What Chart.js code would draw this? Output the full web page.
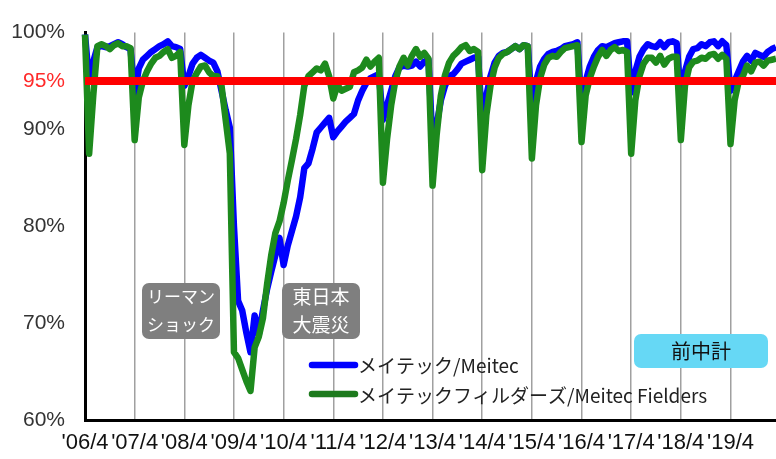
<!DOCTYPE html>
<html>
<head>
<meta charset="utf-8">
<script src="https://cdn.jsdelivr.net/npm/chart.js@4.4.1/dist/chart.umd.min.js"></script>
<style>
  html, body { margin: 0; padding: 0; background: #fff; }
  #wrap { width: 776px; height: 459px; }
</style>
</head>
<body>
<div id="wrap"><canvas id="chart1" width="776" height="459"></canvas></div>
<script>
// tick labels, one per April ('06/4 .. '19/4)
const yearLabels = ["'06/4", "'07/4", "'08/4", "'09/4", "'10/4", "'11/4", "'12/4",
    "'13/4", "'14/4", "'15/4", "'16/4", "'17/4", "'18/4", "'19/4"];
const yTicks = [60, 70, 80, 90, 95, 100];
const target = 95;

// monthly rate, Apr 2006 .. Mar 2020 (one row per fiscal year)
const meitec = [
    99.8, 95.0, 97.0, 98.5, 98.6, 98.5, 98.6, 98.8, 99.0, 98.8, 98.5, 98.3,
    93.6, 96.3, 97.2, 97.6, 98.0, 98.3, 98.6, 98.8, 99.1, 98.6, 98.5, 98.3,
    94.5, 95.5, 96.8, 97.4, 97.7, 97.4, 97.1, 96.9, 96.0, 94.0, 92.0, 90.2,
    80.0, 72.3, 71.3, 69.0, 67.0, 70.8, 68.8, 71.3, 73.5, 75.3, 77.0, 78.8,
    76.0, 78.0, 79.5, 81.0, 83.0, 86.0, 86.5, 88.0, 89.7, 90.2, 90.7, 91.2,
    89.2, 89.8, 90.3, 90.8, 91.2, 91.6, 93.0, 94.0, 94.8, 95.3, 95.5, 95.7,
    91.0, 92.5, 94.0, 95.5, 96.4, 96.6, 96.5, 96.6, 97.0, 96.5, 97.0, 97.2,
    88.5, 90.5, 93.0, 94.5, 95.5, 95.7, 96.2, 96.8, 97.0, 97.2, 97.4, 97.5,
    90.5, 93.5, 95.5, 96.9, 97.6, 97.9, 98.0, 98.3, 98.6, 98.3, 98.7, 98.6,
    92.3, 95.0, 96.5, 97.3, 97.8, 98.0, 98.1, 98.3, 98.6, 98.7, 98.8, 99.0,
    92.3, 95.0, 96.5, 97.5, 98.2, 98.6, 98.5, 98.7, 98.9, 99.0, 99.1, 99.1,
    93.8, 96.0, 97.5, 98.3, 98.8, 98.6, 98.5, 99.0, 98.5, 99.0, 99.1, 98.9,
    93.2, 96.0, 97.5, 98.3, 98.4, 98.8, 98.6, 99.0, 99.1, 98.6, 99.1, 98.7,
    94.0, 95.0, 96.0, 97.0, 97.6, 97.1, 97.9, 97.7, 97.5, 98.0, 98.3, 98.5
];
const fielders = [
    99.8, 87.5, 93.5, 98.6, 98.8, 98.6, 98.3, 98.7, 98.9, 98.6, 98.6, 98.4,
    88.9, 93.3, 95.0, 96.0, 96.8, 97.4, 97.6, 98.0, 98.3, 97.4, 97.6, 98.0,
    88.4, 92.5, 95.0, 95.8, 96.5, 96.6, 95.9, 95.5, 95.5, 94.5, 91.0, 87.5,
    67.0, 66.4, 65.2, 64.0, 63.0, 67.5, 68.6, 70.5, 74.0, 77.0, 79.3, 80.5,
    82.4, 84.7, 86.8, 89.0, 91.5, 94.5, 95.5, 95.9, 96.3, 96.1, 96.8, 95.5,
    93.2, 94.6, 94.0, 94.2, 94.4, 95.9, 96.1, 96.4, 97.2, 96.5, 97.0, 97.4,
    84.5, 89.0, 92.5, 95.0, 96.5, 97.4, 96.6, 97.6, 98.3, 97.5, 97.9, 97.3,
    84.2, 89.5, 93.5, 95.6, 96.9, 97.6, 98.0, 98.5, 98.7, 98.1, 98.3, 98.0,
    85.8, 91.5, 94.5, 96.4, 97.4, 97.8, 98.0, 98.3, 98.6, 98.3, 98.7, 98.6,
    87.0, 92.5, 95.3, 96.7, 97.4, 97.6, 97.5, 98.0, 98.4, 98.5, 98.6, 98.7,
    88.7, 93.5, 95.3, 96.5, 97.5, 98.2, 97.6, 98.2, 98.5, 98.1, 98.2, 98.0,
    87.5, 93.0, 95.5, 96.8, 97.4, 97.4, 96.9, 97.6, 96.7, 97.3, 97.5, 97.5,
    88.9, 94.5, 96.4, 97.0, 97.1, 97.4, 97.3, 97.7, 97.8, 97.3, 97.7, 97.3,
    88.5, 93.0, 95.0, 95.5, 96.6, 96.0, 96.9, 97.0, 96.6, 97.1, 97.2, 97.3
];

const lastMonth = meitec.length - 1;
const toPoints = arr => arr.map((v, i) => ({ x: i, y: v }));

const JP = '"Noto Sans CJK JP", "Liberation Sans", sans-serif';

// notes and legend drawn on top of the plot
const overlay = {
    id: 'overlay',
    afterDatasetsDraw(chart) {
        const c = chart.ctx;
        c.save();

        function box(x, y, w, h, fill, lines, color, size) {
            c.fillStyle = fill;
            c.beginPath();
            c.roundRect(x, y, w, h, 7);
            c.fill();
            c.fillStyle = color;
            c.font = size + 'px ' + JP;
            c.textAlign = 'center';
            c.textBaseline = 'middle';
            const step = h / lines.length;
            lines.forEach((t, i) => c.fillText(t, x + w / 2, y + step * (i + 0.5)));
        }
        box(142, 283, 78, 56, '#7f7f7f', ['リーマン', 'ショック'], '#fff', 17);
        box(282, 283, 78, 56, '#7f7f7f', ['東日本', '大震災'], '#fff', 19);
        box(634, 334, 134, 34, '#66d8f5', ['前中計'], '#111', 20);

        // legend
        c.lineCap = 'round';
        c.lineWidth = 6.5;
        c.strokeStyle = '#0000ff';
        c.beginPath(); c.moveTo(312, 365); c.lineTo(355, 365); c.stroke();
        c.strokeStyle = '#1d7a1d';
        c.beginPath(); c.moveTo(312, 394); c.lineTo(355, 394); c.stroke();
        c.fillStyle = '#222';
        c.font = '19px ' + JP;
        c.textAlign = 'left';
        c.textBaseline = 'middle';
        c.fillText('メイテック/Meitec', 358, 366);
        c.fillText('メイテックフィルダーズ/Meitec Fielders', 358, 396);
        c.restore();
    }
};

const ctx1 = document.getElementById('chart1').getContext('2d');
const myChart1 = new Chart(ctx1, {
    type: 'line',
    data: {
        datasets: [{
            label: '95%',
            data: [{ x: 0, y: target }, { x: lastMonth, y: target }],
            borderColor: '#ff0000',
            borderWidth: 8,
            pointRadius: 0,
            order: 0
        }, {
            label: 'メイテックフィルダーズ/Meitec Fielders',
            data: toPoints(fielders),
            borderColor: '#1d8a1d',
            borderWidth: 6.5,
            borderJoinStyle: 'round',
            pointRadius: 0,
            tension: 0,
            clip: 6,
            order: 1
        }, {
            label: 'メイテック/Meitec',
            data: toPoints(meitec),
            borderColor: '#0000ff',
            borderWidth: 6.5,
            borderJoinStyle: 'round',
            pointRadius: 0,
            tension: 0,
            clip: 6,
            order: 2
        }]
    },
    options: {
        responsive: false,
        animation: false,
        layout: { padding: { top: 23, right: 0, left: 0, bottom: 0 } },
        plugins: {
            legend: { display: false },
            tooltip: { enabled: false }
        },
        scales: {
            x: {
                type: 'linear',
                min: 0,
                max: lastMonth,
                afterBuildTicks: axis => {
                    axis.ticks = yearLabels.map((l, i) => ({ value: i * 12 }));
                },
                afterFit: scale => { scale.height = 39; },
                ticks: {
                    autoSkip: false,
                    maxRotation: 0,
                    padding: 10,
                    color: '#111',
                    font: { family: 'Liberation Sans', size: 22 },
                    callback: value => yearLabels[value / 12]
                },
                grid: { color: '#a0a0a0', lineWidth: 1.5, drawTicks: false },
                border: { color: '#000', width: 3 }
            },
            y: {
                min: 60,
                max: 100,
                afterBuildTicks: axis => {
                    axis.ticks = yTicks.map(v => ({ value: v }));
                },
                afterFit: scale => { scale.width = 85; },
                ticks: {
                    padding: 20,
                    font: { family: 'Liberation Sans', size: 21 },
                    color: c => c.tick && c.tick.value === target ? '#ff2a2a' : '#333',
                    callback: value => value + '%'
                },
                grid: { display: false, drawTicks: false },
                border: { color: '#000', width: 3 }
            }
        }
    },
    plugins: [overlay]
});
</script>
</body>
</html>
